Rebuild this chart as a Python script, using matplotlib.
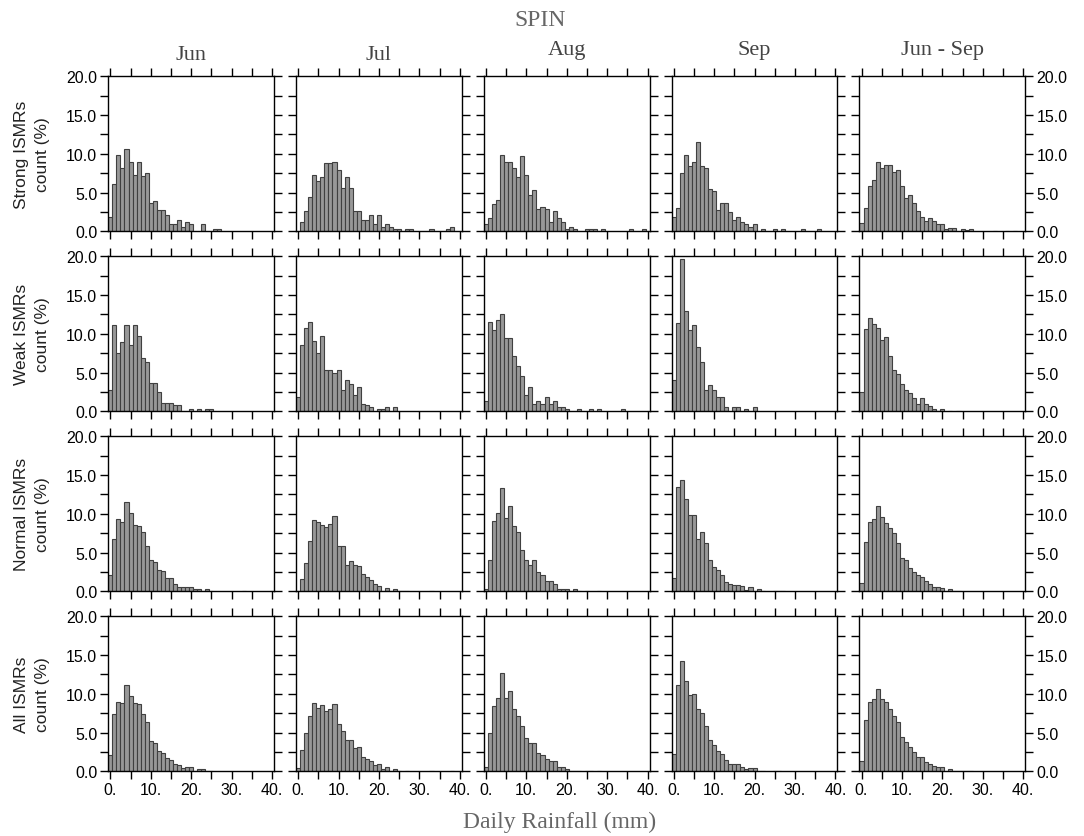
import numpy as np
import matplotlib.pyplot as plt

# histogram of daily rainfall, 1 mm bins centred on 0..40 mm, values in % of days
months = ['Jun', 'Jul', 'Aug', 'Sep', 'Jun - Sep']
groups = ['Strong', 'Weak', 'Normal', 'All']
bins = np.arange(41)

strong_jun = [1.9, 6.1, 9.9, 8.2, 10.6, 9.0, 7.3, 9.0, 7.2, 7.5, 3.7, 3.9, 2.7, 2.7, 2.1, 1.0, 1.0, 1.5, 0.6, 1.2,
              1.0, 0, 0, 1.0, 0, 0, 0.3, 0.3]
strong_jul = [0, 1.2, 2.6, 4.4, 7.3, 6.5, 7.0, 8.8, 8.8, 9.0, 7.9, 5.6, 7.0, 5.6, 2.6, 2.6, 1.5, 1.5, 2.1, 0.9,
              2.1, 0.6, 0.9, 0.6, 0.3, 0.3, 0, 0.3, 0.3, 0, 0, 0, 0, 0.3, 0, 0, 0, 0.3, 0.6]
strong_aug = [0.9, 1.7, 3.5, 4.1, 9.9, 9.0, 9.0, 8.2, 7.0, 9.7, 7.3, 4.7, 5.3, 2.9, 3.2, 2.9, 1.2, 2.6, 1.7, 1.2,
              0.3, 0.6, 0.3, 0, 0, 0.3, 0.3, 0.3, 0, 0.3, 0, 0, 0, 0, 0, 0, 0.3, 0, 0, 0.3]
strong_sep = [1.9, 3.0, 7.5, 9.9, 8.4, 9.0, 11.5, 8.4, 8.2, 5.4, 5.2, 2.8, 3.6, 3.6, 2.5, 1.5, 1.9, 1.2, 0.9, 0.6,
              0.9, 0, 0.3, 0, 0, 0.3, 0, 0.3, 0, 0, 0, 0, 0.3, 0, 0, 0, 0.3]
strong_jjas = [1.1, 3.0, 5.8, 6.6, 9.0, 8.2, 8.6, 8.6, 7.7, 7.9, 5.9, 4.3, 4.7, 3.7, 2.6, 1.9, 1.3, 1.7, 1.3, 0.9,
               1.0, 0.3, 0.4, 0.4, 0, 0.3, 0.2, 0.3, 0, 0, 0, 0, 0, 0.1, 0, 0, 0.1, 0, 0.1]

weak_jun = [2.7, 11.1, 7.5, 8.9, 11.1, 8.6, 11.1, 9.7, 6.9, 6.3, 3.6, 3.6, 2.5, 1.1, 1.1, 1.1, 0.8, 0.8, 0, 0,
            0.3, 0, 0.3, 0, 0.3, 0.3]
weak_jul = [1.9, 8.5, 10.7, 11.5, 9.1, 7.5, 9.7, 5.3, 5.3, 5.0, 5.3, 2.7, 4.0, 3.5, 2.1, 3.2, 1.0, 0.8, 0.5, 0,
            0.3, 0.3, 0.5, 0, 0.5]
weak_aug = [1.3, 11.5, 10.5, 11.8, 12.6, 9.4, 9.4, 7.2, 5.9, 4.5, 2.1, 3.2, 1.0, 1.3, 1.0, 1.8, 1.0, 1.3, 0.5, 0.5,
            0.3, 0, 0, 0.3, 0, 0, 0.3, 0, 0.3, 0, 0, 0, 0, 0, 0.3]
weak_sep = [4.1, 11.4, 19.7, 13.0, 10.5, 11.1, 8.3, 6.3, 2.7, 3.4, 2.7, 1.9, 1.9, 0.5, 0, 0.5, 0.5, 0, 0.3, 0,
            0.5]
weak_jjas = [2.5, 10.6, 12.0, 11.3, 10.8, 9.2, 9.6, 7.1, 5.3, 4.8, 3.5, 2.8, 2.3, 1.7, 1.0, 1.7, 0.9, 0.7, 0.3, 0.1,
             0.3, 0, 0.1, 0, 0.1]

normal_jun = [2.1, 6.8, 9.3, 9.0, 11.5, 10.1, 8.6, 8.4, 7.6, 5.9, 4.0, 3.8, 2.7, 2.6, 1.7, 1.7, 1.0, 0.5, 0.5, 0.5,
              0.5, 0.3, 0.3, 0.1, 0.3, 0.1, 0, 0, 0, 0, 0, 0, 0, 0.1, 0, 0, 0, 0, 0, 0, 0.1]
normal_jul = [0.1, 1.6, 3.7, 6.5, 9.2, 8.9, 8.6, 8.3, 8.7, 9.7, 5.8, 5.8, 3.4, 3.9, 3.4, 3.3, 2.2, 1.8, 1.5, 1.0,
              0.7, 0.1, 0.4, 0.1, 0.3, 0.1, 0.05, 0.05, 0, 0, 0, 0, 0, 0.05]
normal_aug = [0.3, 4.0, 9.1, 10.1, 13.3, 9.5, 11.0, 8.4, 7.7, 5.3, 4.1, 3.4, 4.0, 2.5, 2.1, 1.3, 1.3, 1.0, 0.3, 0.3,
              0.3, 0, 0.3, 0.1, 0, 0.1, 0, 0, 0.1]
normal_sep = [1.7, 13.4, 14.3, 11.9, 9.9, 9.9, 6.8, 7.6, 6.2, 4.0, 3.1, 2.8, 2.1, 1.2, 1.0, 0.8, 0.8, 0.7, 0.2, 0.5,
              0.1, 0.3, 0.1, 0, 0, 0.05, 0.05, 0.05]
normal_jjas = [1.1, 6.3, 9.0, 9.3, 11.0, 9.6, 8.8, 8.2, 7.5, 6.2, 4.3, 4.0, 3.0, 2.5, 2.1, 1.9, 1.3, 1.0, 0.6, 0.5,
               0.4, 0.1, 0.3, 0.1, 0.1]

all_jun = [2.1, 7.4, 9.0, 8.8, 11.2, 9.7, 8.8, 8.7, 7.4, 6.3, 3.9, 3.7, 2.6, 2.3, 1.7, 1.5, 1.0, 0.8, 0.4, 0.5,
           0.5, 0.1, 0.3, 0.3, 0.1, 0.1]
all_jul = [0.4, 2.8, 4.9, 7.1, 8.8, 8.2, 8.5, 7.8, 8.1, 8.7, 6.1, 5.2, 4.1, 4.1, 3.0, 3.1, 1.8, 1.6, 1.3, 0.8,
           1.0, 0.3, 0.5, 0.1, 0.3, 0.1, 0, 0.1, 0, 0, 0, 0, 0, 0.1, 0, 0, 0, 0, 0.1]
all_aug = [0.5, 5.0, 8.4, 9.4, 12.7, 9.4, 10.3, 8.1, 7.2, 5.9, 4.3, 3.6, 3.6, 2.3, 2.1, 1.6, 1.3, 1.3, 0.5, 0.5,
           0.3, 0.1, 0.1, 0.1, 0, 0.1, 0.1, 0, 0.1]
all_sep = [2.2, 11.2, 14.2, 11.7, 9.8, 10.0, 8.0, 7.5, 5.9, 4.1, 3.4, 2.6, 2.2, 1.5, 1.0, 0.9, 0.9, 0.6, 0.3, 0.4,
           0.4, 0.1, 0.1, 0, 0, 0.1, 0.1]
all_jjas = [1.3, 6.6, 9.0, 9.3, 10.6, 9.3, 8.9, 8.0, 7.1, 6.3, 4.4, 3.8, 3.2, 2.5, 1.9, 1.8, 1.2, 1.0, 0.7, 0.5,
            0.5, 0.1, 0.3, 0.1, 0.1, 0.1, 0.1, 0.1]

panels = [[strong_jun, strong_jul, strong_aug, strong_sep, strong_jjas],
          [weak_jun, weak_jul, weak_aug, weak_sep, weak_jjas],
          [normal_jun, normal_jul, normal_aug, normal_sep, normal_jjas],
          [all_jun, all_jul, all_aug, all_sep, all_jjas]]

W, H = 1084, 837
serif = 'Liberation Serif'
sans = 'Liberation Sans'

fig = plt.figure(figsize=(W / 100, H / 100), dpi=100)

for i in range(4):
    for j in range(5):
        # panel placement in pixels of the reference
        x0 = 108.3 + 187.8 * j
        y0 = 77.3 + 180 * i
        ax = fig.add_axes([x0 / W, 1 - (y0 + 155) / H, 165.7 / W, 155 / H])

        vals = np.zeros(len(bins))
        vals[:len(panels[i][j])] = panels[i][j]
        nz = vals > 0
        ax.bar(bins[nz], vals[nz], width=1.0, color='#989898', edgecolor='#404040', linewidth=0.8)

        ax.set_xlim(-0.5, 40.5)
        ax.set_ylim(0, 20)
        ax.set_xticks(np.arange(0, 41, 5))
        ax.set_xticklabels(['%d.' % v if v % 10 == 0 else '' for v in range(0, 41, 5)])
        ax.set_yticks(np.arange(0, 20.1, 2.5))
        ax.set_yticklabels(['%.1f' % v if v % 5 == 0 else '' for v in np.arange(0, 20.1, 2.5)])
        ax.tick_params(direction='out', length=6, width=1.0, top=True, right=True,
                       labelleft=(j == 0), labelright=(j == 4), labelbottom=(i == 3),
                       labelsize=11.5, pad=2)
        for lab in ax.get_xticklabels() + ax.get_yticklabels():
            lab.set_family(sans)
        for s in ax.spines.values():
            s.set_linewidth(1.0)

    # row labels
    yc = 1 - (77.3 + 180 * i + 77.5) / H
    fig.text(22 / W, yc, groups[i] + ' ISMRs', rotation=90, ha='center', va='center',
             fontsize=12.5, family=sans, color='#222222')
    fig.text(42 / W, yc, 'count (%)', rotation=90, ha='center', va='center',
             fontsize=12.5, family=sans, color='#222222')

# column titles
title_y = [55, 55, 50, 50, 50]
for j in range(5):
    fig.text((108.3 + 187.8 * j + 82.8) / W, 1 - title_y[j] / H, months[j], ha='center', va='center',
             fontsize=16, family=serif, color='#444444')

fig.text(540 / W, 1 - 20 / H, 'SPIN', ha='center', va='center', fontsize=17, family=serif, color='#666666')
fig.text(560 / W, 1 - 822 / H, 'Daily Rainfall (mm)', ha='center', va='center', fontsize=17,
         family=serif, color='#666666')

plt.savefig('out.png', dpi=100)
plt.close()
